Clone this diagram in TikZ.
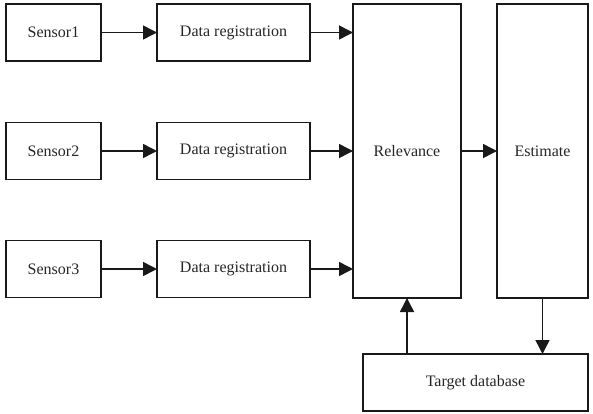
\documentclass[tikz,border=0pt]{standalone}
\usepackage{fontspec}
\setmainfont{Liberation Serif}
\usetikzlibrary{arrows.meta}
\begin{document}
\begin{tikzpicture}[x=1pt,y=-1pt,
  box/.style={draw=black!90,line width=1.5pt,inner sep=0pt,outer sep=0pt,
    font=\fontsize{16}{19}\selectfont,text=black!85},
  arr/.style={draw=black!90,line width=1.5pt,-{Triangle[length=14pt,width=14pt]}}]
\useasboundingbox (0,0) rectangle (593,413);
% sources
\node[box,minimum width=95pt,minimum height=57pt] (s1) at (53.5,32.5) {Sensor1};
\node[box,minimum width=95pt,minimum height=57pt] (s2) at (53.5,151) {Sensor2};
\node[box,minimum width=95pt,minimum height=57pt] (s3) at (53.5,269) {Sensor3};
% registration stages
\node[box,minimum width=153pt,minimum height=57pt] (d1) at (233.5,32.5) {Data registration};
\node[box,minimum width=153pt,minimum height=57pt] (d2) at (233.5,151) {Data registration};
\node[box,minimum width=153pt,minimum height=57pt] (d3) at (233.5,269) {Data registration};
% fusion stages
\node[box,minimum width=108pt,minimum height=294pt] (rel) at (407,151) {Relevance};
\node[box,minimum width=91pt,minimum height=294pt] (est) at (542.5,151) {Estimate};
\node[box,minimum width=225pt,minimum height=57pt] (tgt) at (475.5,382.5) {Target database};
% connectors
\draw[arr] (s1) -- (d1);
\draw[arr] (s2) -- (d2);
\draw[arr] (s3) -- (d3);
\draw[arr] (d1.east) -- (rel.west |- d1.east);
\draw[arr] (d2.east) -- (rel.west |- d2.east);
\draw[arr] (d3.east) -- (rel.west |- d3.east);
\draw[arr] (rel.east) -- (est.west);
\draw[arr] (est.south) -- (est.south |- tgt.north);
\draw[arr] (tgt.north -| rel.south) -- (rel.south);
\end{tikzpicture}
\end{document}
